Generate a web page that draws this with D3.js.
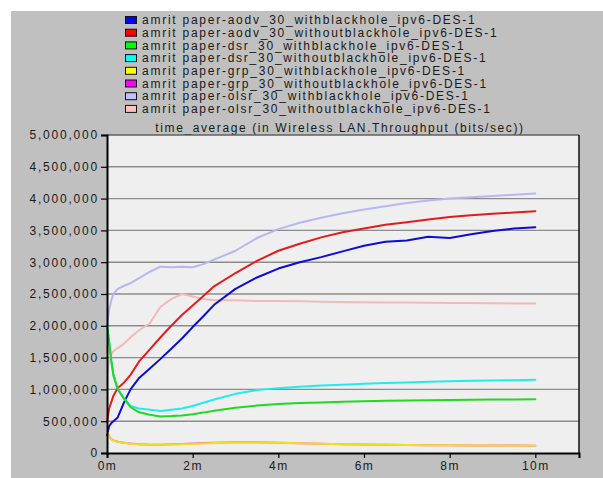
<!DOCTYPE html>
<html>
<head>
<meta charset="utf-8">
<script src="https://cdn.jsdelivr.net/npm/d3@7"></script>
<style>
  html, body { margin: 0; padding: 0; background: #ffffff; }
  svg { display: block; }
  text { font-family: "Liberation Sans", Arial, sans-serif; fill: #1a1a1a; }
</style>
</head>
<body>
<svg id="chart" width="603" height="478"></svg>
<script>
// Sample times (minutes) shared by every series
const times = [0, 0.05, 0.1, 0.15, 0.25, 0.4, 0.55, 0.75, 1.0, 1.25, 1.5, 1.75, 2.0, 2.25, 2.5,
               3.0, 3.5, 4.0, 4.5, 5.0, 5.5, 6.0, 6.5, 7.0, 7.5, 8.0, 8.5, 9.0, 9.5, 10.0];

// Throughput time averages (bits/sec)
const aodvWith = [280000, 420000, 470000, 500000, 560000, 800000, 1000000, 1180000, 1330000, 1480000, 1640000, 1800000, 1980000, 2150000, 2330000,
                  2580000, 2760000, 2900000, 3000000, 3080000, 3170000, 3260000, 3320000, 3340000, 3400000, 3380000, 3440000, 3490000, 3530000, 3550000];
const aodvWithout = [480000, 700000, 800000, 900000, 1020000, 1110000, 1230000, 1440000, 1630000, 1820000, 2000000, 2170000, 2320000, 2470000, 2620000,
                     2830000, 3020000, 3180000, 3290000, 3390000, 3470000, 3530000, 3590000, 3630000, 3670000, 3710000, 3740000, 3760000, 3780000, 3800000];
const dsrWith = [2000000, 1750000, 1450000, 1220000, 1000000, 850000, 720000, 640000, 600000, 575000, 580000, 590000, 610000, 635000, 665000,
                 710000, 745000, 770000, 785000, 795000, 805000, 815000, 820000, 825000, 830000, 835000, 838000, 840000, 843000, 845000];
const dsrWithout = [2000000, 1760000, 1460000, 1230000, 1010000, 860000, 740000, 700000, 680000, 660000, 680000, 700000, 740000, 790000, 840000,
                    930000, 990000, 1020000, 1040000, 1060000, 1075000, 1090000, 1100000, 1110000, 1120000, 1130000, 1135000, 1140000, 1145000, 1150000];
const grpWith = [330000, 260000, 215000, 195000, 175000, 160000, 145000, 135000, 128000, 128000, 132000, 138000, 142000, 150000, 158000,
                 165000, 165000, 160000, 152000, 145000, 138000, 132000, 128000, 125000, 122000, 120000, 118000, 116000, 115000, 113000];
const grpWithout = [335000, 262000, 218000, 198000, 178000, 162000, 148000, 137000, 130000, 131000, 136000, 142000, 148000, 156000, 163000,
                    170000, 169000, 163000, 154000, 146000, 139000, 133000, 129000, 126000, 123000, 121000, 119000, 117000, 116000, 114000];
const olsrWith = [2000000, 2250000, 2400000, 2500000, 2580000, 2630000, 2670000, 2750000, 2850000, 2930000, 2920000, 2930000, 2920000, 2970000, 3040000,
                  3180000, 3380000, 3520000, 3620000, 3700000, 3770000, 3830000, 3880000, 3930000, 3970000, 4000000, 4020000, 4040000, 4060000, 4080000];
const olsrWithout = [1250000, 1450000, 1550000, 1600000, 1650000, 1720000, 1820000, 1930000, 2040000, 2300000, 2420000, 2500000, 2460000, 2420000, 2400000,
                     2400000, 2390000, 2390000, 2385000, 2380000, 2375000, 2370000, 2368000, 2365000, 2362000, 2360000, 2357000, 2355000, 2352000, 2350000];

const seriesNames = [
  "amrit paper-aodv_30_withblackhole_ipv6-DES-1",
  "amrit paper-aodv_30_withoutblackhole_ipv6-DES-1",
  "amrit paper-dsr_30_withblackhole_ipv6-DES-1",
  "amrit paper-dsr_30_withoutblackhole_ipv6-DES-1",
  "amrit paper-grp_30_withblackhole_ipv6-DES-1",
  "amrit paper-grp_30_withoutblackhole_ipv6-DES-1",
  "amrit paper-olsr_30_withblackhole_ipv6-DES-1",
  "amrit paper-olsr_30_withoutblackhole_ipv6-DES-1"
];
const seriesValues = [aodvWith, aodvWithout, dsrWith, dsrWithout, grpWith, grpWithout, olsrWith, olsrWithout];
const swatchColors = ["#0000ff", "#ff0000", "#00ff00", "#00ffff", "#ffff00", "#ff00ff", "#c0c0ff", "#ffc0c0"];
const lineColors   = ["#0c0cd6", "#e21c1c", "#22d822", "#22eaf0", "#f6dc22", "#f060c0", "#b6b6f4", "#f4b8b8"];
// drawing order: later entries sit on top
const drawOrder = [6, 7, 1, 0, 3, 2, 5, 4];

const yTicks = [0, 500000, 1000000, 1500000, 2000000, 2500000, 3000000, 3500000, 4000000, 4500000, 5000000];
const xTicks = [0, 2, 4, 6, 8, 10];
const xTickLabels = ["0m", "2m", "4m", "6m", "8m", "10m"];
const titleText = "time_average (in Wireless LAN.Throughput (bits/sec))";

const svg = d3.select("#chart");

// grey panel
svg.append("rect").attr("x", 11).attr("y", 11).attr("width", 592).attr("height", 467).attr("fill", "#c0c0c0");

const plot = { left: 107, right: 579, top: 135, bottom: 453 };
const x = d3.scaleLinear().domain([0, 11.02]).range([plot.left, plot.right]);
const y = d3.scaleLinear().domain([0, 5000000]).range([plot.bottom, plot.top]);

// legend
const legend = svg.append("g");
seriesNames.forEach((name, i) => {
  const cy = 20 + i * 12.7;
  legend.append("rect").attr("x", 125.5).attr("y", cy - 3.5).attr("width", 11).attr("height", 7)
    .attr("fill", swatchColors[i]).attr("stroke", "#111").attr("stroke-width", 1);
  legend.append("text").attr("x", 142).attr("y", cy).attr("dy", "0.35em")
    .attr("font-size", 12).attr("letter-spacing", 1.75).text(name);
});

// title
svg.append("text").attr("x", (plot.left + plot.right) / 2 - 3).attr("y", 128).attr("dy", "0.35em")
  .attr("text-anchor", "middle").attr("font-size", 12).attr("letter-spacing", 1.6).text(titleText);

// plot background
svg.append("rect").attr("x", plot.left).attr("y", plot.top)
  .attr("width", plot.right - plot.left).attr("height", plot.bottom - plot.top).attr("fill", "#efefef");

// horizontal grid
svg.append("g").selectAll("line").data(yTicks.filter(d => d > 0)).join("line")
  .attr("x1", plot.left).attr("x2", plot.right)
  .attr("y1", d => y(d)).attr("y2", d => y(d))
  .attr("stroke", d => d === 5000000 ? "#606060" : "#8c8c8c").attr("stroke-width", 1.4);

// series lines
const line = d3.line().x((d, i) => x(times[i])).y(d => y(d));
const lines = svg.append("g").attr("fill", "none").attr("stroke-linejoin", "round").attr("stroke-linecap", "round");
drawOrder.forEach(i => {
  lines.append("path").datum(seriesValues[i]).attr("d", line)
    .attr("stroke", lineColors[i]).attr("stroke-width", 2);
});

// right border
svg.append("line").attr("x1", plot.right).attr("x2", plot.right).attr("y1", plot.top).attr("y2", plot.bottom)
  .attr("stroke", "#111").attr("stroke-width", 1.5);

// y axis
const yAxis = svg.append("g").attr("transform", `translate(${plot.left},0)`)
  .call(d3.axisLeft(y).tickValues(yTicks).tickFormat(d3.format(",")).tickSize(6).tickPadding(2));
yAxis.select(".domain").attr("stroke", "#000").attr("stroke-width", 2);
yAxis.selectAll(".tick line").attr("stroke", "#000").attr("stroke-width", 1.2);
yAxis.selectAll(".tick text").attr("font-size", 12).attr("letter-spacing", 1.8)
  .attr("font-family", "Liberation Sans, Arial, sans-serif").attr("fill", "#1a1a1a");

// x axis
const xAxis = svg.append("g").attr("transform", `translate(0,${plot.bottom})`)
  .call(d3.axisBottom(x).tickValues(xTicks).tickFormat((d, i) => xTickLabels[i]).tickSize(5).tickPadding(3));
xAxis.select(".domain").attr("stroke", "#000").attr("stroke-width", 2);
xAxis.selectAll(".tick line").attr("stroke", "#000").attr("stroke-width", 1.2);
xAxis.selectAll(".tick text").attr("font-size", 12).attr("letter-spacing", 1.5)
  .attr("font-family", "Liberation Sans, Arial, sans-serif").attr("fill", "#1a1a1a");
</script>
</body>
</html>
